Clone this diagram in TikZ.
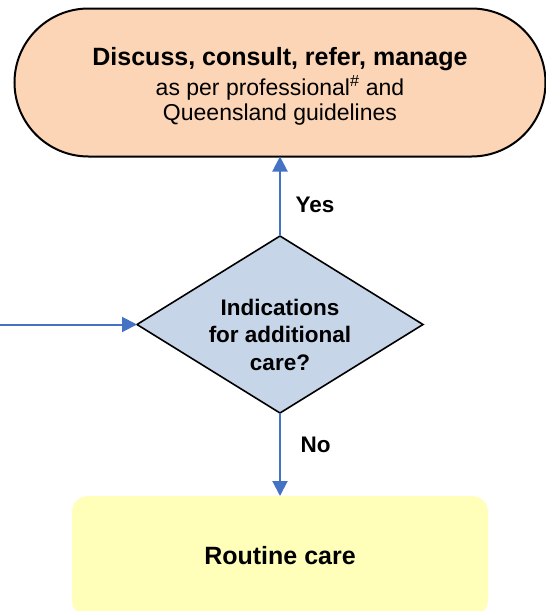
\documentclass[tikz,border=0pt]{standalone}
\usepackage{fontspec}
\setmainfont{Liberation Sans}
\usetikzlibrary{shapes.geometric,arrows.meta}
\definecolor{peach}{HTML}{FBD5B5}
\definecolor{bluegrey}{HTML}{C6D5E8}
\definecolor{paleyellow}{HTML}{FFFFBA}
\definecolor{flowblue}{HTML}{4472C4}
\newcommand{\fs}[2]{\fontsize{#1}{#2}\selectfont}

\begin{document}
\begin{tikzpicture}[x=1pt,y=-1pt]
      \useasboundingbox (0,0) rectangle (546,611);
      \begin{scope}[every node/.style={align=center,inner sep=0pt,outer sep=0pt}]
        \node[draw,line width=2pt,fill=peach,rounded corners=74pt,
              minimum width=531pt,minimum height=148pt] (manage) at (280,82.5) {};
        \node[font=\fs{23}{25}] (managetext) at (280,86)
              {\fs{25}{25}\bfseries Discuss, consult, refer, manage\\[4pt]
               as per professional\textsuperscript{\#} and\\
               Queensland guidelines};
        \node[diamond,draw,line width=1.6pt,fill=bluegrey,aspect=1.616,
              minimum width=286pt,minimum height=177pt] (decide) at (280,324.5) {};
        \node[font=\fs{22.5}{27.5}\bfseries] (decidetext) at (280,334.5)
              {Indications\\ for additional\\ care?};
        \node[fill=paleyellow,rounded corners=16pt,minimum width=416pt,
              minimum height=120pt,font=\fs{25}{30}\bfseries] (routine) at (280,556)
              {Routine care};
        \node[font=\fs{22.5}{27}\bfseries] (yes) at (315,205) {Yes};
        \node[font=\fs{22.5}{27}\bfseries] (no) at (315.5,445) {No};
      \end{scope}
      \coordinate (entry) at (0,324.5);
      \begin{scope}[every edge/.style={draw=flowblue,line width=2pt,
                    -{Triangle[length=15pt,width=15pt]}}]
        \path (decide.north) edge (manage.south);
        \path (decide.south) edge (routine.north);
        \path (entry) edge (decide.west);
      \end{scope}
    \end{tikzpicture}
\end{document}
